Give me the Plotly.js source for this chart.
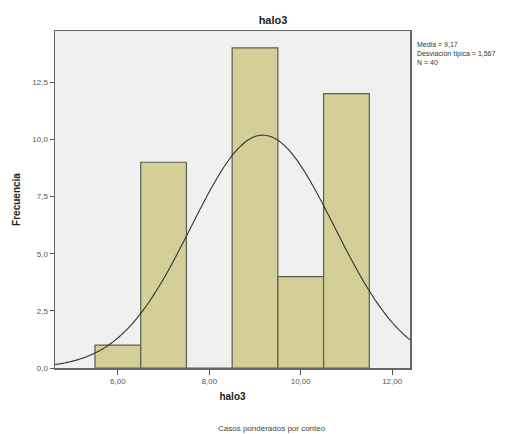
<!DOCTYPE html>
<html>
<head>
<meta charset="utf-8">
<script src="https://cdn.plot.ly/plotly-3.0.1.min.js"></script>
<style>html,body{margin:0;padding:0;background:#fff;}#chart{width:522px;height:434px;}</style>
</head>
<body>
<div id="chart"></div>
<script>
const binCenters = [6, 7, 8, 9, 10, 11];
const frequencies = [1, 9, 0, 14, 4, 12];
const statMean = 9.17;
const statSd = 1.567;
const statN = 40;
const xTicks = [6, 8, 10, 12];
const xTickLabels = ["6,00", "8,00", "10,00", "12,00"];
const yTicks = [0, 2.5, 5, 7.5, 10, 12.5];
const yTickLabels = ["0,0", "2,5", "5,0", "7,5", "10,0", "12,5"];

const xMin = 4.625, xMax = 12.39;
const curveX = [], curveY = [];
for (let i = 0; i <= 200; i++) {
  const x = xMin + (xMax - xMin) * i / 200;
  const z = (x - statMean) / statSd;
  curveX.push(x);
  curveY.push(statN * 1 / (statSd * Math.sqrt(2 * Math.PI)) * Math.exp(-0.5 * z * z));
}

const font = "Liberation Sans, Arial, sans-serif";
const data = [
  {
    type: "bar", x: binCenters, y: frequencies, width: 1,
    marker: {color: "#d3cf97", line: {color: "#5e5e4c", width: 1.2}},
    hoverinfo: "x+y", showlegend: false
  },
  {
    type: "scatter", mode: "lines", x: curveX, y: curveY,
    line: {color: "#333333", width: 1.1, shape: "spline"},
    hoverinfo: "skip", showlegend: false
  }
];

const layout = {
  width: 522, height: 434,
  margin: {l: 55, r: 112, t: 31, b: 66},
  paper_bgcolor: "#ffffff",
  plot_bgcolor: "#f0f0f0",
  font: {family: font, color: "#333", size: 8},
  bargap: 0,
  title: {text: "<b>halo3</b>", font: {family: font, size: 11, color: "#222"}, x: 273/522, xanchor: "center", y: 1 - 20/434, yanchor: "middle"},
  xaxis: {
    range: [xMin, xMax], tickmode: "array", tickvals: xTicks, ticktext: xTickLabels,
    ticks: "outside", ticklen: 5, tickcolor: "#555", tickwidth: 1,
    showgrid: false, zeroline: false, showline: true, linecolor: "#666", linewidth: 1.5, mirror: true,
    tickfont: {family: font, size: 8, color: "#555"},
    title: {text: "<b>halo3</b>", font: {family: font, size: 10, color: "#222"}, standoff: 8}
  },
  yaxis: {
    range: [0, 14.74], tickmode: "array", tickvals: yTicks, ticktext: yTickLabels,
    ticks: "outside", ticklen: 4, tickcolor: "#555", tickwidth: 1,
    showgrid: false, zeroline: false, showline: true, linecolor: "#666", linewidth: 1.5, mirror: true,
    tickfont: {family: font, size: 8, color: "#555"},
    title: {text: "<b>Frecuencia</b>", font: {family: font, size: 10, color: "#222"}, standoff: 10}
  },
  annotations: [
    {xref: "paper", yref: "paper", x: 1.015, y: 1 - (53 - 31) / 337, xanchor: "left", yanchor: "middle",
     text: "Media = 9,17<br>Desviación típica = 1,567<br>N = 40", align: "left", showarrow: false,
     font: {family: font, size: 7, color: "#333"}},
    {xref: "paper", yref: "paper", x: (272 - 55) / 355, y: -(428 - 368) / 337, xanchor: "center", yanchor: "middle",
     text: "Casos ponderados por conteo", showarrow: false, font: {family: font, size: 8, color: "#444"}}
  ]
};

Plotly.newPlot("chart", data, layout, {displayModeBar: false, staticPlot: true});
</script>
</body>
</html>
